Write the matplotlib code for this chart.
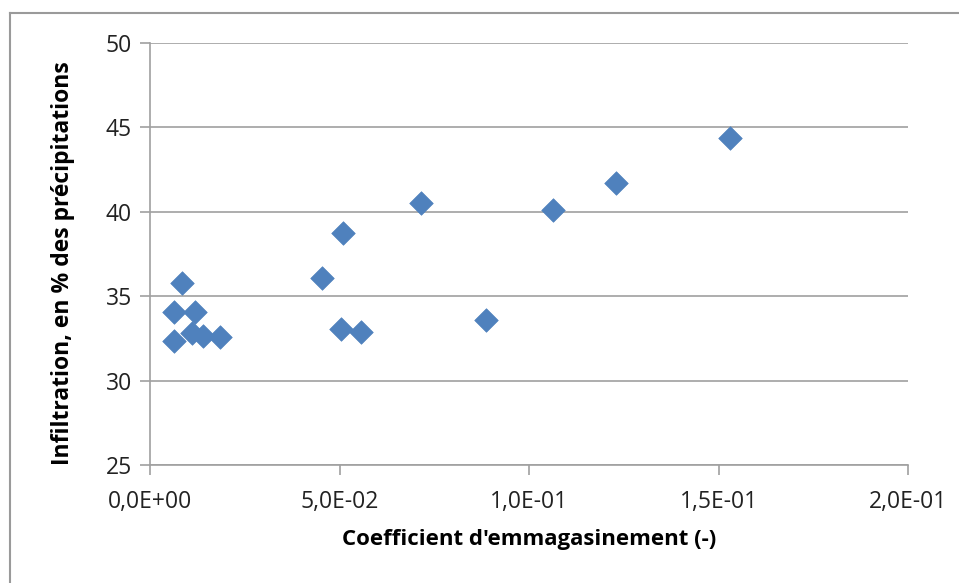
import matplotlib.pyplot as plt
from matplotlib.lines import Line2D
from matplotlib.ticker import FixedLocator, FuncFormatter

# données
coef_emmagasinement = [0.00835, 0.00625, 0.0119, 0.0064, 0.0111, 0.0141, 0.0185,
                       0.0455, 0.0510, 0.0505, 0.0556, 0.0716, 0.0887,
                       0.1064, 0.1230, 0.1530]
infiltration_pct = [35.75, 34.06, 34.03, 32.35, 32.82, 32.62, 32.58,
                    36.08, 38.71, 33.08, 32.88, 40.52, 33.61,
                    40.09, 41.69, 44.36]

x_ticks = [0.0, 0.05, 0.10, 0.15, 0.20]
y_ticks = [25, 30, 35, 40, 45, 50]

BLUE = '#4F81BD'
GRID = '#A0A0A0'
FONT = ['Open Sans', 'DejaVu Sans']

plt.rcParams['font.family'] = FONT

fig = plt.figure(figsize=(9.59, 5.83), dpi=100)
ax = fig.add_axes([150 / 959, 1 - 465 / 583, 758 / 959, 422.3 / 583])

ax.scatter(coef_emmagasinement, infiltration_pct, marker='D', s=12 ** 2,
           color=BLUE, edgecolors=BLUE, linewidths=0.5, zorder=3)

ax.set_xlim(0, 0.2)
ax.set_ylim(25, 50)
ax.xaxis.set_major_locator(FixedLocator(x_ticks))
ax.yaxis.set_major_locator(FixedLocator(y_ticks))


def fmt_sci(v, pos):
    s = '{:.1E}'.format(v)
    mant, exp = s.split('E')
    return '{}E{}{:02d}'.format(mant.replace('.', ','), '+' if int(exp) >= 0 else '-', abs(int(exp)))


ax.xaxis.set_major_formatter(FuncFormatter(fmt_sci))

ax.grid(axis='y', color=GRID, linewidth=1.2)
ax.set_axisbelow(True)
for side in ['top', 'right']:
    ax.spines[side].set_visible(False)
for side in ['left', 'bottom']:
    ax.spines[side].set_color(GRID)
    ax.spines[side].set_linewidth(1.2)

ax.tick_params(axis='both', direction='out', length=7, width=1.2, color=GRID,
               labelsize=16.5, labelcolor='#222222')
ax.tick_params(axis='x', pad=11)
ax.tick_params(axis='y', pad=6)

ax.set_xlabel("Coefficient d'emmagasinement (-)", fontsize=16, fontweight='bold',
              labelpad=11)
ax.set_ylabel('Infiltration, en % des précipitations', fontsize=16.5, fontweight='bold')
ax.yaxis.set_label_coords(-0.099, 0.478)

# cadre extérieur de la zone de graphique (gauche et haut seulement)
fig.add_artist(Line2D([10 / 959, 10 / 959], [0, 1 - 12.5 / 583], transform=fig.transFigure,
                      color='#9A9A9A', linewidth=1.5))
fig.add_artist(Line2D([10 / 959, 1], [1 - 12.5 / 583, 1 - 12.5 / 583], transform=fig.transFigure,
                      color='#9A9A9A', linewidth=1.5))

fig.savefig('out.png', dpi=100)
